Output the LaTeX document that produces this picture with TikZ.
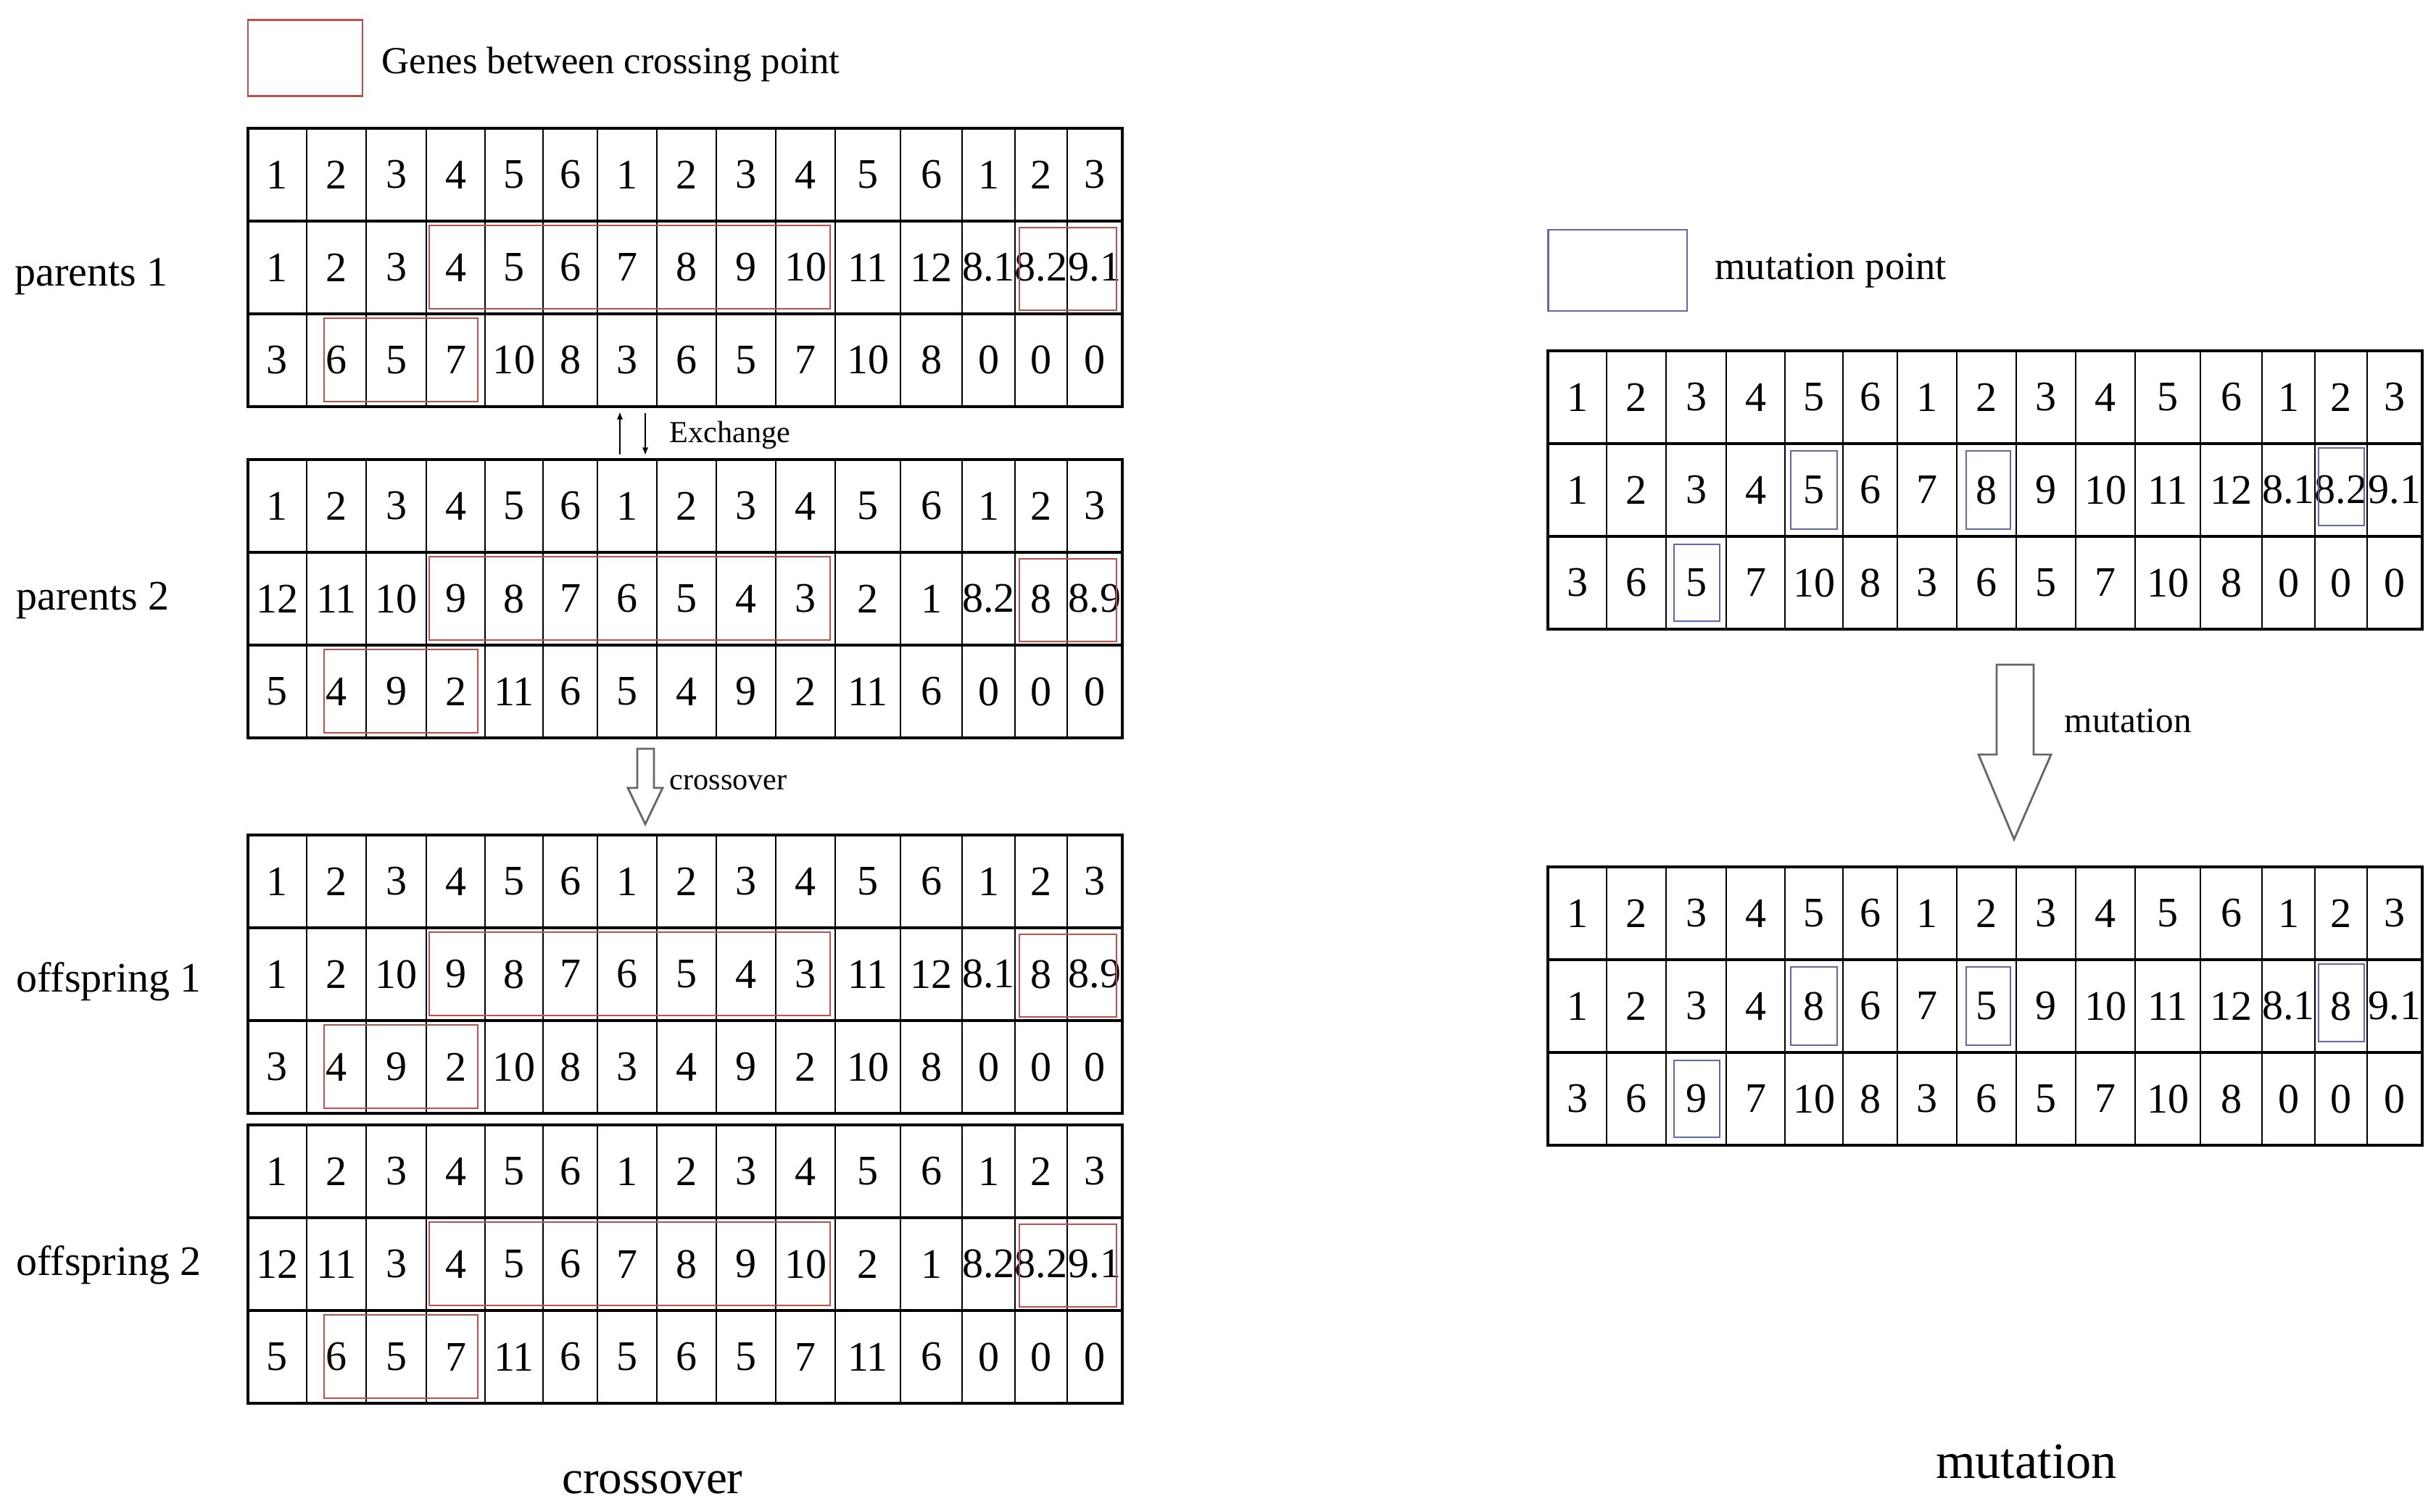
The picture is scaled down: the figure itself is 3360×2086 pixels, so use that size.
\documentclass[tikz,border=0pt]{standalone}
\usepackage{fontspec}
\setmainfont{Liberation Serif}
\usetikzlibrary{arrows.meta,positioning}

\definecolor{genered}{RGB}{192,80,77}
\definecolor{mutblue}{RGB}{96,104,170}

% one chromosome: three rows of 15 genes, #2 is the top left corner
\newcommand{\chromtable}[5]{%
  \begin{scope}[shift={#2}]
    \draw[gridline] (0,0) rectangle (1206,384);
    \draw[gridline] (0,128) -- (1206,128) (0,256) -- (1206,256);
    \foreach \c in {81,163,246,327,407,482,564,646,728,810,900,985,1058,1130}
      \draw[colline] (\c,0) -- (\c,384);
    \foreach \row [count=\r] in {{#3},{#4},{#5}}
      \foreach \v [count=\i] in \row {
        \pgfmathsetmacro{\xc}{{40.5,122,204.5,286.5,367,444.5,523,605,687,769,855,942.5,1021.5,1094,1168}[\i-1]}
        \node[gene] (#1-\r-\i) at (\xc,128*\r-64) {\v};
      }
  \end{scope}}

\begin{document}
\begin{tikzpicture}[x=0.01cm,y=-0.01cm,
  gridline/.style={line width=0.9pt},
  colline/.style={line width=0.55pt},
  gene/.style={inner sep=0pt,font=\fontsize{16.5}{19}\selectfont},
  genebox/.style={draw=genered,line width=0.6pt},
  mutbox/.style={draw=mutblue,line width=0.6pt},
  keybox/.style={line width=0.6pt,minimum width=#1,minimum height=1.05cm,inner sep=0pt},
  keytext/.style={inner sep=0pt,font=\fontsize{15}{18}\selectfont},
  rowlabel/.style={anchor=west,inner sep=0pt,font=\fontsize{16.5}{19}\selectfont},
  steplabel/.style={anchor=west,inner sep=0pt,font=\fontsize{12}{14}\selectfont},
  blockarrow/.style={draw=black!60,line width=0.8pt,line join=miter},
  caption/.style={inner sep=0pt,font=\fontsize{18.5}{22}\selectfont}]
\useasboundingbox (0,0) rectangle (3360,2086);

% Legends
\node[keybox=1.58cm,draw=genered] (redkey) at (421,80) {};
\node[keytext,right=0.25cm of redkey,yshift=-0.09cm] (redtext) {Genes between crossing point};
\node[keybox=1.91cm,minimum height=1.12cm,draw=mutblue] (bluekey) at (2231,373) {};
\node[keytext,font=\fontsize{15.5}{18}\selectfont,right=0.37cm of bluekey] (bluetext) {mutation point};

% Crossover
\chromtable{par1}{(342,177)}{1,2,3,4,5,6,1,2,3,4,5,6,1,2,3}{1,2,3,4,5,6,7,8,9,10,11,12,8.1,8.2,9.1}{3,6,5,7,10,8,3,6,5,7,10,8,0,0,0}
\chromtable{par2}{(342,634)}{1,2,3,4,5,6,1,2,3,4,5,6,1,2,3}{12,11,10,9,8,7,6,5,4,3,2,1,8.2,8,8.9}{5,4,9,2,11,6,5,4,9,2,11,6,0,0,0}
\chromtable{off1}{(342,1152)}{1,2,3,4,5,6,1,2,3,4,5,6,1,2,3}{1,2,10,9,8,7,6,5,4,3,11,12,8.1,8,8.9}{3,4,9,2,10,8,3,4,9,2,10,8,0,0,0}
\chromtable{off2}{(342,1552)}{1,2,3,4,5,6,1,2,3,4,5,6,1,2,3}{12,11,3,4,5,6,7,8,9,10,2,1,8.2,8.2,9.1}{5,6,5,7,11,6,5,6,5,7,11,6,0,0,0}
\foreach \ty in {177,634,1152,1552} {
  \draw[genebox] (592,\ty+134) rectangle (1145,\ty+249);
  \draw[genebox] (1406,\ty+137) rectangle (1540,\ty+251);
  \draw[genebox] (447,\ty+262) rectangle (659,\ty+377);
}

\node[rowlabel] (par1name) at (20,382) {parents 1};
\node[rowlabel] (par2name) at (22,828) {parents 2};
\node[rowlabel] (off1name) at (22,1354) {offspring 1};
\node[rowlabel] (off2name) at (22,1745) {offspring 2};

% Exchange
\coordinate (upfrom) at (855,627);
\coordinate (upto) at (855,568);
\coordinate (downfrom) at (890,570);
\coordinate (downto) at (890,628);
\draw[line width=0.55pt,-{Latex[length=3pt,width=2.4pt]}] (upfrom) -- (upto);
\draw[line width=0.55pt,-{Latex[length=3pt,width=2.4pt]}] (downfrom) -- (downto);
\node[steplabel] (exlabel) at (923,600) {Exchange};

\draw[blockarrow] (879,1033) -- (902,1033) -- (902,1087) -- (914,1087) -- (890,1137) -- (866,1087) -- (879,1087) -- cycle;
\node[steplabel] (colabel) at (923,1080) {crossover};

\node[caption] (cocap) at (900,2045) {crossover};

% Mutation
\chromtable{mut1}{(2135,484)}{1,2,3,4,5,6,1,2,3,4,5,6,1,2,3}{1,2,3,4,5,6,7,8,9,10,11,12,8.1,8.2,9.1}{3,6,5,7,10,8,3,6,5,7,10,8,0,0,0}
\chromtable{mut2}{(2135,1196)}{1,2,3,4,5,6,1,2,3,4,5,6,1,2,3}{1,2,3,4,8,6,7,5,9,10,11,12,8.1,8,9.1}{3,6,9,7,10,8,3,6,5,7,10,8,0,0,0}
\foreach \ty in {484,1196} {
  \draw[mutbox] (2470,\ty+138) rectangle (2534,\ty+246);
  \draw[mutbox] (2712,\ty+138) rectangle (2773,\ty+246);
  \draw[mutbox] (3198,\ty+134) rectangle (3261,\ty+241);
  \draw[mutbox] (2309,\ty+267) rectangle (2372,\ty+373);
}

\draw[blockarrow] (2754,917) -- (2805,917) -- (2805,1041) -- (2829,1041) -- (2778,1158) -- (2729,1041) -- (2754,1041) -- cycle;
\node[steplabel,font=\fontsize{14}{16}\selectfont] (mulabel) at (2847,994) {mutation};

\node[caption,font=\fontsize{20}{24}\selectfont] (mucap) at (2795,2017) {mutation};
\end{tikzpicture}
\end{document}
